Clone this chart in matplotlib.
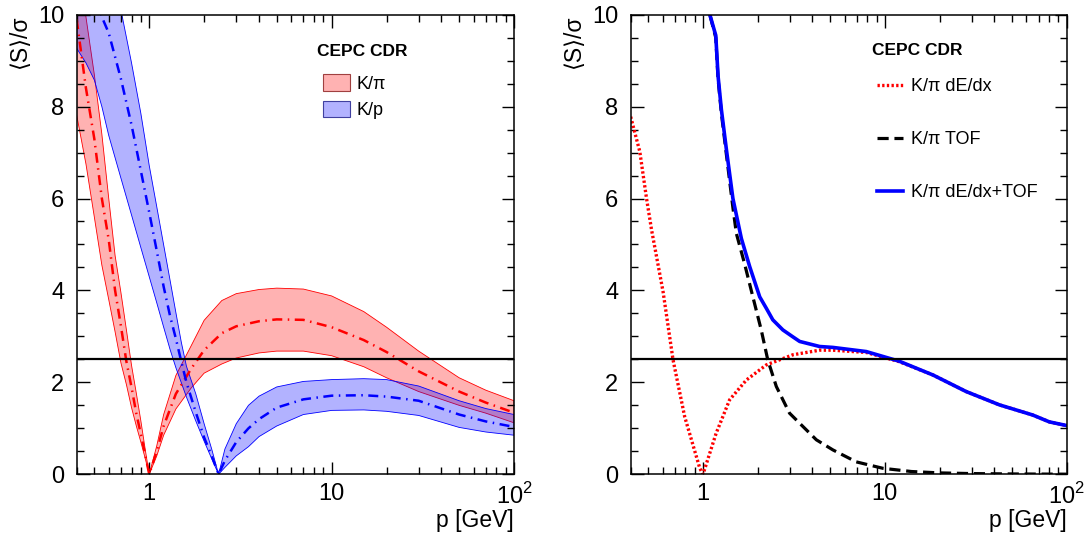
import numpy as np
import matplotlib
matplotlib.use("Agg")
import matplotlib.pyplot as plt
from matplotlib.patches import Patch
from matplotlib.lines import Line2D
from matplotlib.ticker import (FixedLocator, FixedFormatter, LogLocator,
                               MultipleLocator, NullFormatter)

plt.rcParams["font.family"] = ["Liberation Sans", "DejaVu Sans"]
plt.rcParams["mathtext.fontset"] = "custom"
plt.rcParams["mathtext.rm"] = "Liberation Sans"

# ---------------------------------------------------------------------------
# left panel: K/pi and K/p separation bands (dE/dx)
# ---------------------------------------------------------------------------
p_kpi = [0.4, 0.45, 0.5, 0.55, 0.6, 0.65, 0.7, 0.75, 0.8, 0.85, 0.9, 0.95,
         1.0, 1.1, 1.2, 1.4, 1.7, 2.0, 2.5, 3, 4, 5, 7, 10, 15, 20, 30, 50,
         70, 100]
kpi_mid = [9.9, 8.4, 7.3, 6.0, 5.1, 4.0, 3.22, 2.45, 1.89, 1.32, 0.87, 0.43,
           0.0, 0.5, 1.05, 1.75, 2.3, 2.7, 3.07, 3.22, 3.33, 3.37, 3.36, 3.2,
           2.92, 2.66, 2.24, 1.8, 1.56, 1.34]
kpi_hi = [11.8, 9.95, 8.7, 7.4, 6.0, 4.76, 3.95, 3.14, 2.37, 1.76, 1.16, 0.55,
          0.0, 0.62, 1.3, 2.15, 2.8, 3.35, 3.78, 3.93, 4.02, 4.05, 4.03, 3.88,
          3.54, 3.2, 2.68, 2.1, 1.83, 1.6]
kpi_lo = [7.82, 6.75, 5.6, 4.55, 3.8, 3.1, 2.42, 1.95, 1.45, 1.05, 0.7, 0.35,
          0.0, 0.4, 0.85, 1.42, 1.88, 2.2, 2.4, 2.53, 2.64, 2.68, 2.68, 2.58,
          2.34, 2.1, 1.8, 1.5, 1.33, 1.12]

p_kp = [0.4, 0.45, 0.5, 0.55, 0.6, 0.7, 0.8, 0.9, 1.0, 1.1, 1.2, 1.3, 1.4,
        1.5, 1.6, 1.8, 2.0, 2.2, 2.4, 2.6, 3, 3.5, 4, 5, 7, 10, 15, 20, 30,
        50, 70, 100]
kp_mid = [12.0, 11.2, 10.5, 9.95, 9.6, 8.6, 7.6, 6.6, 5.7, 4.86, 4.08, 3.45,
          2.95, 2.45, 2.0, 1.35, 0.8, 0.4, 0.0, 0.3, 0.7, 1.0, 1.2, 1.45, 1.63,
          1.71, 1.72, 1.69, 1.6, 1.3, 1.15, 1.03]
kp_hi = [13.7, 13.0, 12.3, 11.7, 11.2, 10.1, 8.95, 7.85, 6.72, 5.82, 4.99,
         4.23, 3.52, 2.87, 2.35, 1.75, 1.1, 0.55, 0.0, 0.55, 1.1, 1.5, 1.7,
         1.9, 2.02, 2.06, 2.08, 2.06, 1.92, 1.6, 1.43, 1.3]
kp_lo = [9.27, 8.95, 8.58, 8.0, 7.37, 6.44, 5.64, 4.93, 4.3, 3.73, 3.2, 2.72,
         2.32, 1.99, 1.68, 1.16, 0.72, 0.34, 0.0, 0.15, 0.4, 0.6, 0.82, 1.05,
         1.3, 1.39, 1.4, 1.37, 1.28, 1.02, 0.92, 0.85]

# ---------------------------------------------------------------------------
# right panel: K/pi dE/dx, TOF and combined
# ---------------------------------------------------------------------------
p_dedx = [0.4, 0.449, 0.489, 0.521, 0.603, 0.684, 0.793, 0.96, 1.0, 1.18,
          1.4, 1.73, 2.23, 3.12, 4.38, 5.18, 7.9, 12.0, 18.4, 28.0, 42.7,
          65.0, 80.3, 100]
s_dedx = [7.78, 7.02, 6.0, 5.32, 3.97, 2.49, 1.25, 0.13, 0.0, 0.89, 1.62,
          2.05, 2.38, 2.6, 2.7, 2.7, 2.65, 2.45, 2.16, 1.8, 1.51, 1.29, 1.14,
          1.06]

p_tof = [1.05, 1.09, 1.175, 1.21, 1.262, 1.345, 1.46, 1.525, 1.69, 1.88,
         2.09, 2.27, 2.53, 2.99, 3.4, 4.2, 5.18, 6.96, 9.75, 14, 20, 30, 50,
         100]
s_tof = [10.6, 10.0, 9.5, 8.6, 7.85, 6.95, 5.8, 5.24, 4.59, 3.86, 3.14, 2.49,
         1.91, 1.33, 1.11, 0.75, 0.53, 0.27, 0.13, 0.06, 0.03, 0.015, 0.007,
         0.002]

p_comb = [1.05, 1.09, 1.175, 1.21, 1.262, 1.345, 1.46, 1.625, 1.805, 2.05,
          2.23, 2.42, 2.75, 3.12, 3.4, 4.38, 5.18, 7.9, 12.0, 18.4, 28.0,
          42.7, 65.0, 80.3, 100]
s_comb = [10.6, 10.0, 9.55, 8.66, 7.93, 7.06, 6.0, 5.13, 4.52, 3.86, 3.61,
          3.36, 3.14, 2.99, 2.89, 2.78, 2.76, 2.67, 2.46, 2.16, 1.80, 1.51,
          1.29, 1.14, 1.06]

THRESHOLD = 2.5

RED_FILL = (1.0, 0.0, 0.0, 0.30)
BLUE_FILL = (0.0, 0.0, 1.0, 0.30)
DASHDOT = [4, 2.2, 0.6, 2.2]


def style_axes(ax):
    ax.set_xscale("log")
    ax.set_xlim(0.4, 100)
    ax.set_ylim(0, 10)
    ax.xaxis.set_major_locator(FixedLocator([1, 10, 100]))
    ax.xaxis.set_major_formatter(FixedFormatter(["1", "10", "$10^{2}$"]))
    ax.xaxis.set_minor_locator(LogLocator(base=10, subs=np.arange(2, 10)))
    ax.xaxis.set_minor_formatter(NullFormatter())
    ax.yaxis.set_major_locator(MultipleLocator(2))
    ax.yaxis.set_minor_locator(MultipleLocator(0.5))
    ax.tick_params(which="both", direction="in", top=True, right=True,
                   width=1.0, labelsize=17)
    ax.tick_params(which="major", length=9)
    ax.tick_params(which="minor", length=5)
    ax.tick_params(axis="x", pad=6)
    ax.tick_params(axis="y", pad=9)
    for s in ax.spines.values():
        s.set_linewidth(1.1)
    ax.set_xlabel("p [GeV]", loc="right", fontsize=16.5, labelpad=0)
    ax.set_ylabel("⟨S⟩/σ", loc="top", fontsize=16.5, labelpad=5)


fig = plt.figure(figsize=(10.9, 5.37), dpi=100)
ax1 = fig.add_axes([0.0703, 0.1168, 0.4013, 0.8559])
ax2 = fig.add_axes([0.5786, 0.1168, 0.4000, 0.8559])

# (1) bands
ax1.fill_between(p_kpi, kpi_lo, kpi_hi, facecolor=RED_FILL, edgecolor="red",
                 linewidth=0.6)
ax1.fill_between(p_kp, kp_lo, kp_hi, facecolor=BLUE_FILL, edgecolor="blue",
                 linewidth=0.6)
ax1.plot(p_kpi, kpi_mid, color="red", lw=1.8, dashes=DASHDOT)
ax1.plot(p_kp, kp_mid, color="blue", lw=1.8, dashes=DASHDOT)
ax1.axhline(THRESHOLD, color="black", lw=1.6)
style_axes(ax1)

ax1.text(0.549, 0.9195, "CEPC CDR", transform=ax1.transAxes,
         fontsize=12.5, fontweight="bold", va="center", ha="left")
h1 = [Patch(facecolor=RED_FILL, edgecolor="#a04040", lw=0.8),
      Patch(facecolor=BLUE_FILL, edgecolor="#4040a0", lw=0.8)]
ax1.legend(h1, ["K/π", "K/p"], loc="upper left",
           bbox_to_anchor=(0.564, 0.870), frameon=False, fontsize=13,
           handlelength=1.5, handleheight=1.0, handletextpad=0.35,
           labelspacing=0.45, borderpad=0, borderaxespad=0)

# (2) curves
ax2.plot(p_dedx, s_dedx, color="red", lw=2.4, linestyle=(0, (0.7, 0.7)))
ax2.plot(p_tof, s_tof, color="black", lw=2.3, dashes=[3.5, 1.8])
ax2.plot(p_comb, s_comb, color="blue", lw=2.6)
ax2.axhline(THRESHOLD, color="black", lw=1.6)
style_axes(ax2)

ax2.text(0.553, 0.9217, "CEPC CDR", transform=ax2.transAxes,
         fontsize=12.5, fontweight="bold", va="center", ha="left")
h2 = [Line2D([], [], color="red", lw=2.4, linestyle=(0, (0.7, 0.7))),
      Line2D([], [], color="black", lw=2.3, dashes=[3.5, 1.8]),
      Line2D([], [], color="blue", lw=2.6)]
ax2.legend(h2, ["K/π dE/dx", "K/π TOF", "K/π dE/dx+TOF"], loc="upper left",
           bbox_to_anchor=(0.564, 0.862), frameon=False, fontsize=13,
           handlelength=1.45, handletextpad=0.45, labelspacing=2.0,
           borderpad=0, borderaxespad=0)

fig.savefig("out.png", dpi=100)
